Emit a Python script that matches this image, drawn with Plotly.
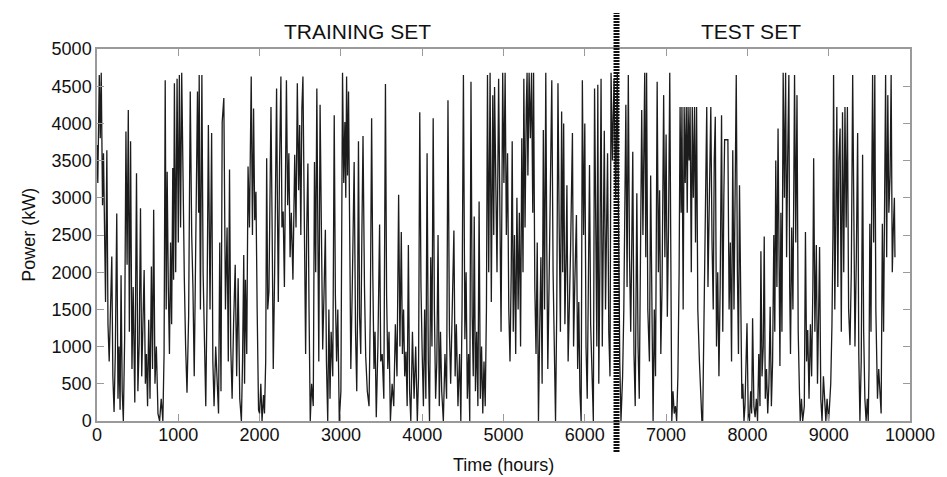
import plotly.graph_objects as go

# ---------------- data (hours, power in kW) ----------------
hours_0 = [0, 10, 28, 40, 52, 60, 68, 80, 93, 105, 121, 135, 150, 165, 182, 195, 210, 225, 243, 258,
           271, 284, 296, 310, 324, 340, 356, 370, 385, 398, 413, 430, 445, 465, 486, 503, 519, 535, 550, 565,
           580, 595, 608, 622, 636, 652, 669, 683, 697, 713, 730, 750, 770, 790, 810, 825, 839, 851, 863, 877,
           891, 905, 918, 932, 942, 952, 968, 985, 1000]
power_0 = [3710, 3200, 4650, 3800, 4680, 3900, 2900, 3600, 2810, 1600, 3640, 1300, 800, 1700, 2210, 600, 120, 900, 2790, 300,
           1000, 150, 1960, 400, 0, 1100, 3890, 2100, 4180, 1200, 3760, 700, 1800, 250, 3330, 400, 1050, 2860, 600, 1300,
           2030, 500, 900, 200, 1360, 300, 2075, 700, 2840, 500, 1000, 100, 0, 300, 0, 900, 4580, 1500, 3350, 1800,
           900, 2400, 1300, 3400, 1900, 4540, 2000, 4600, 2400]

hours_1 = [1013, 1028, 1042, 1058, 1074, 1090, 1107, 1127, 1147, 1165, 1180, 1196, 1215, 1236, 1250, 1257, 1272, 1290, 1305, 1320,
           1338, 1355, 1370, 1390, 1410, 1425, 1440, 1460, 1480, 1495, 1510, 1525, 1540, 1560, 1580, 1600, 1615, 1630, 1645, 1662,
           1680, 1700, 1718, 1736, 1756, 1776, 1790, 1805, 1815, 1826, 1842, 1858, 1875, 1897, 1912, 1926, 1940, 1955, 1970, 1987,
           2000]
power_1 = [4650, 2600, 4680, 3000, 1920, 1000, 380, 1400, 4430, 2500, 1800, 600, 2200, 4430, 2800, 4650, 1500, 4650, 2000, 900,
           200, 1800, 3980, 1500, 3870, 800, 200, 1000, 570, 100, 2400, 400, 4020, 4340, 1500, 2600, 800, 3380, 1000, 300,
           1300, 2100, 600, 1920, 300, 0, 800, 2230, 500, 1900, 900, 3420, 2600, 4630, 2500, 4200, 2700, 3080, 1500, 150,
           100]

hours_2 = [2015, 2030, 2048, 2060, 2075, 2087, 2100, 2115, 2128, 2140, 2155, 2168, 2185, 2209, 2220, 2230, 2245, 2262, 2275, 2290,
           2305, 2330, 2345, 2360, 2375, 2390, 2410, 2432, 2448, 2464, 2480, 2493, 2507, 2520, 2533, 2550, 2566, 2580, 2594, 2608,
           2623, 2640, 2660, 2675, 2690, 2704, 2716, 2728, 2744, 2760, 2776, 2792, 2809, 2822, 2838, 2852, 2866, 2880, 2900, 2918,
           2932, 2947, 2962, 2980, 3000]
power_2 = [500, 0, 350, 100, 800, 3530, 1500, 1740, 3200, 4220, 2500, 700, 2000, 4470, 2800, 1600, 3400, 4630, 2600, 2815,
           1800, 4580, 2900, 3600, 2200, 2800, 1900, 3580, 2600, 4540, 3100, 3980, 2500, 4200, 4630, 2800, 900, 2600, 3460, 1500,
           0, 500, 200, 3480, 2000, 4470, 1600, 800, 4250, 2400, 960, 1700, 2570, 800, 0, 1500, 300, 1200, 600, 4110,
           1700, 800, 1500, 0, 400]

hours_3 = [3020, 3035, 3049, 3060, 3070, 3082, 3094, 3108, 3122, 3140, 3163, 3180, 3195, 3205, 3216, 3230, 3244, 3258, 3272, 3290,
           3305, 3325, 3346, 3362, 3378, 3392, 3407, 3420, 3435, 3455, 3476, 3490, 3508, 3528, 3548, 3562, 3577, 3592, 3609, 3630,
           3650, 3670, 3690, 3710, 3726, 3743, 3757, 3771, 3785, 3800, 3815, 3830, 3845, 3860, 3880, 3900, 3920, 3940, 3955, 3970,
           3985, 4000]
power_3 = [4680, 3200, 4020, 3000, 4630, 3300, 4430, 2500, 700, 1800, 3480, 1200, 400, 1500, 3760, 1400, 900, 2500, 3830, 1800,
           870, 400, 200, 1500, 4070, 2000, 700, 1200, 50, 1000, 2640, 800, 900, 300, 4530, 1700, 700, 1200, 0, 500,
           200, 1300, 600, 3040, 1000, 2540, 900, 1500, 600, 930, 200, 2365, 400, 0, 1200, 300, 1000, 0, 600, 4150,
           1800, 900]

hours_4 = [4015, 4030, 4045, 4060, 4075, 4090, 4105, 4120, 4135, 4150, 4165, 4180, 4195, 4210, 4225, 4240, 4260, 4280, 4300, 4317,
           4335, 4350, 4370, 4390, 4405, 4420, 4440, 4460, 4475, 4490, 4507, 4525, 4540, 4555, 4570, 4585, 4600, 4615, 4628, 4640,
           4655, 4670, 4685, 4700, 4715, 4730, 4745, 4760, 4775, 4790, 4803, 4818, 4835, 4850, 4868, 4880, 4890, 4905, 4920, 4940,
           4955, 4970, 4990, 5005, 5020]
power_4 = [200, 1500, 300, 3600, 800, 0, 2200, 1000, 4070, 1500, 300, 800, 2500, 200, 1200, 400, 0, 900, 300, 4310,
           1200, 500, 1800, 2560, 600, 1300, 200, 900, 0, 1500, 4650, 1100, 2000, 300, 900, 0, 4560, 1400, 600, 2750,
           400, 1200, 200, 2950, 300, 1000, 100, 800, 200, 1500, 4650, 2000, 4680, 1600, 4380, 2500, 4490, 3000, 2000, 4600,
           2500, 1200, 4680, 3200, 4680]

hours_5 = [5035, 5050, 5065, 5080, 5095, 5107, 5120, 5135, 5150, 5165, 5180, 5195, 5210, 5225, 5240, 5250, 5265, 5280, 5290, 5300,
           5315, 5330, 5345, 5360, 5370, 5385, 5400, 5415, 5430, 5445, 5460, 5475, 5490, 5505, 5520, 5532, 5545, 5560, 5578, 5594,
           5610, 5625, 5640, 5655, 5670, 5685, 5700, 5715, 5728, 5740, 5755, 5770, 5780, 5795, 5810, 5825, 5848, 5862, 5876, 5897,
           5912, 5926, 5940, 5955, 5970, 5985, 6000, 6015, 6030, 6045, 6058, 6072, 6088, 6105, 6120, 6135, 6148, 6160, 6172, 6185,
           6200, 6215, 6228, 6240, 6255, 6268, 6280, 6295, 6310, 6323, 6340, 6360, 6380]
power_5 = [2500, 3600, 1500, 800, 2000, 3760, 1200, 2500, 900, 3000, 1500, 2800, 1000, 3800, 2000, 4600, 2600, 4200, 4680, 3300,
           4680, 3800, 4680, 2800, 4680, 1800, 900, 2400, 0, 1200, 2200, 500, 3910, 1500, 4680, 2400, 700, 1800, 3000, 4580,
           2000, 800, 0, 1500, 4540, 2600, 1200, 4160, 2000, 4000, 1300, 2200, 3170, 800, 1500, 2300, 3870, 1000, 1800, 2770,
           700, 1600, 400, 0, 4580, 2500, 4000, 1000, 300, 2200, 3440, 1300, 600, 0, 4470, 1800, 1000, 4520, 500, 2000,
           4600, 1000, 2500, 3900, 1500, 2900, 3600, 1200, 600, 4680, 3500, 4600, 3000]

hours_6 = [6400, 6415, 6430, 6445, 6465, 6480, 6492, 6505, 6520, 6535, 6550, 6565, 6578, 6590, 6605, 6620, 6640, 6655, 6670, 6685,
           6700, 6715, 6727, 6737, 6750, 6760, 6775, 6795, 6810, 6825, 6840, 6855, 6870, 6890, 6905, 6920, 6935, 6950, 6970, 6985,
           7000, 7015, 7030, 7045, 7058, 7070, 7085, 7100, 7115, 7130, 7145, 7160, 7172, 7185, 7195, 7210, 7222, 7235, 7248, 7260,
           7270, 7283, 7295, 7310, 7322, 7335, 7350, 7362, 7375, 7390, 7410]
power_6 = [4680, 2000, 800, 0, 600, 1500, 3000, 4250, 1800, 4650, 2200, 1200, 2400, 3620, 900, 200, 3060, 1000, 300, 2000,
           4180, 2500, 3500, 4680, 2200, 4680, 1500, 800, 3300, 1000, 0, 1500, 600, 4560, 2000, 3100, 900, 1800, 4380, 2200,
           3850, 1400, 2600, 4680, 1500, 0, 400, 100, 200, 0, 600, 2000, 4220, 2800, 4220, 1500, 4220, 3200, 4220, 2800,
           4220, 3500, 4220, 2000, 4220, 3000, 4220, 2400, 4220, 1500, 800]

hours_7 = [7425, 7440, 7450, 7465, 7480, 7500, 7515, 7530, 7550, 7565, 7580, 7592, 7605, 7620, 7635, 7650, 7665, 7682, 7697, 7710,
           7720, 7740, 7760, 7775, 7790, 7805, 7820, 7835, 7850, 7863, 7877, 7890, 7903, 7918, 7932, 7944, 7958, 7970, 7983, 7995,
           8010, 8025, 8040, 8052, 8064, 8080, 8095, 8110, 8125, 8140, 8155, 8166, 8180, 8195, 8207, 8220, 8235, 8250, 8265, 8280,
           8295, 8310, 8325, 8337, 8349, 8363, 8377, 8390, 8400]
power_7 = [300, 0, 0, 1200, 2500, 4220, 1800, 3200, 4220, 2400, 1500, 3500, 4090, 1000, 2000, 600, 1800, 4110, 1200, 3000,
           3780, 3780, 3780, 1500, 2400, 800, 3640, 1500, 4000, 4650, 2000, 900, 3170, 1200, 300, 500, 0, 200, 800, 1315,
           100, 0, 400, 100, 1380, 200, 50, 300, 0, 900, 200, 2280, 600, 1000, 2480, 300, 700, 100, 500, 1535,
           200, 800, 2500, 1200, 3500, 1800, 3930, 1400, 740]

hours_8 = [8412, 8425, 8440, 8455, 8470, 8482, 8495, 8510, 8520, 8530, 8545, 8560, 8580, 8595, 8610, 8625, 8640, 8650, 8665, 8680,
           8700, 8714, 8728, 8742, 8758, 8775, 8790, 8805, 8815, 8830, 8848, 8862, 8877, 8888, 8903, 8918, 8935, 8950, 8965, 8980,
           8998, 9010, 9025, 9040]
power_8 = [2800, 1200, 4680, 3000, 4680, 2200, 3500, 4650, 1800, 900, 2600, 1500, 4650, 2400, 4380, 1200, 400, 0, 300, 0,
           200, 2540, 800, 1224, 300, 1300, 600, 1800, 3530, 1200, 2365, 500, 1500, 2340, 300, 0, 600, 200, 0, 300,
           0, 200, 500, 1290]

hours_9 = [9052, 9060, 9075, 9088, 9100, 9112, 9125, 9140, 9155, 9170, 9185, 9200, 9215, 9230, 9245, 9262, 9278, 9295, 9310, 9323,
           9340, 9356, 9370, 9384, 9400, 9417, 9430, 9445, 9460, 9475, 9486, 9496, 9506, 9520, 9530, 9540, 9553, 9567, 9580, 9600,
           9615, 9630, 9645, 9660, 9675, 9688, 9700, 9713, 9727, 9740, 9755, 9768, 9782, 9796, 9808, 9815]
power_9 = [2500, 4650, 1500, 2800, 4220, 1800, 3500, 3930, 1200, 4150, 2000, 4220, 2600, 4220, 1500, 1020, 2000, 4650, 1800, 1000,
           2200, 3870, 900, 0, 800, 3580, 1200, 300, 0, 300, 0, 700, 2650, 1200, 3200, 4650, 2400, 4650, 1500, 300,
           700, 470, 100, 2650, 1200, 3000, 4650, 2200, 4380, 2800, 3300, 4650, 2000, 2620, 3000, 2200]

split_hour = 6390          # boundary between training and test sets
x_ticks = [0, 1000, 2000, 3000, 4000, 5000, 6000, 7000, 8000, 9000, 10000]
y_ticks = [0, 500, 1000, 1500, 2000, 2500, 3000, 3500, 4000, 4500, 5000]
section_labels = ["TRAINING SET", "TEST SET"]
section_centers = [3200, 8040]

# ---------------- build series ----------------
blocks_h = [hours_0, hours_1, hours_2, hours_3, hours_4, hours_5, hours_6, hours_7, hours_8, hours_9]
blocks_p = [power_0, power_1, power_2, power_3, power_4, power_5, power_6, power_7, power_8, power_9]
hours, power = [], []
for i, (hh, pp) in enumerate(zip(blocks_h, blocks_p)):
    if len(hh) != len(pp):
        raise ValueError(f"block {i}: {len(hh)} hours vs {len(pp)} values")
    hours += hh
    power += pp

FONT = "Liberation Sans, Arial, Helvetica, sans-serif"

fig = go.Figure()
fig.add_trace(go.Scatter(x=hours, y=power, mode="lines",
                         line=dict(color="#1c1c1c", width=1.3),
                         showlegend=False, hoverinfo="skip"))

# divider between training and test sets
fig.add_shape(type="line", xref="x", yref="paper",
              x0=split_hour, x1=split_hour, y0=-0.083, y1=1.097,
              line=dict(color="#111111", width=6, dash="2px,1px"))

for lab, cx in zip(section_labels, section_centers):
    fig.add_annotation(x=cx, y=1.048, xref="x", yref="paper", text=lab,
                       showarrow=False, font=dict(family=FONT, size=21, color="#111"),
                       xanchor="center", yanchor="middle")

fig.add_annotation(x=0.5, y=-0.118, xref="paper", yref="paper", text="Time (hours)",
                   showarrow=False, font=dict(family=FONT, size=18, color="#111"),
                   xanchor="center", yanchor="middle")
fig.add_annotation(x=-0.084, y=0.5, xref="paper", yref="paper", text="Power (kW)",
                   showarrow=False, textangle=-90, font=dict(family=FONT, size=18, color="#111"),
                   xanchor="center", yanchor="middle")

axis_common = dict(showline=True, linecolor="#9a9a9a", linewidth=1.5, mirror="ticks",
                   ticks="inside", ticklen=7, tickcolor="#9a9a9a", tickwidth=1,
                   showgrid=False, zeroline=False,
                   tickfont=dict(family=FONT, size=18, color="#111"))

fig.update_xaxes(range=[0, 10000], tickvals=x_ticks, ticktext=[str(v) for v in x_ticks],
                 ticklabelstandoff=-3, **axis_common)
fig.update_yaxes(range=[0, 5000], tickvals=y_ticks, ticktext=[str(v) for v in y_ticks], **axis_common)

# the page adds an 8px body margin, so the figure is sized/offset to compensate
fig.update_layout(width=939, height=469,
                  margin=dict(l=89, r=28, t=41, b=56),
                  paper_bgcolor="white", plot_bgcolor="white",
                  font=dict(family=FONT))

fig.write_html("out.html")
